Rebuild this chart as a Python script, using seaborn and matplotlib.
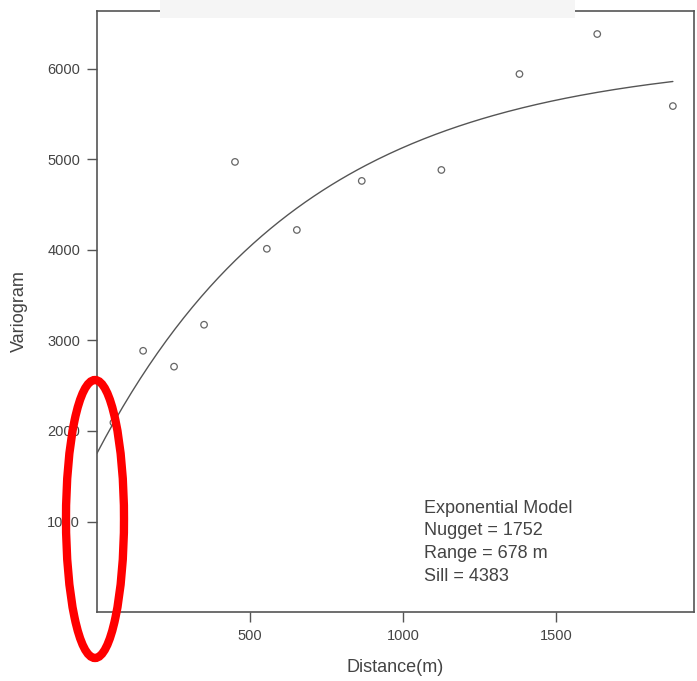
import numpy as np
import pandas as pd
import matplotlib
matplotlib.use("Agg")
import matplotlib.pyplot as plt
from matplotlib.patches import Ellipse, Rectangle
import seaborn as sns

distance = [54, 151, 252, 350, 451, 555, 653, 865, 1125, 1380, 1634, 1881]
gamma = [2093, 2886, 2711, 3174, 4973, 4013, 4221, 4763, 4884, 5944, 6386, 5590]

# fitted exponential model parameters
nugget = 1752
rng = 678
sill = 4383

sns.set_style("ticks")
plt.rcParams['font.family'] = ['Liberation Sans', 'DejaVu Sans']

fig = plt.figure(figsize=(6.97, 6.81), dpi=100)
ax = fig.add_axes([0.139, 0.1013, 0.8567, 0.8825])

df = pd.DataFrame({'dist': distance, 'gamma': gamma})
h = np.linspace(0, max(distance), 200)
model = pd.DataFrame({'dist': h, 'gamma': nugget + sill * (1 - np.exp(-h / rng))})

sns.lineplot(data=model, x='dist', y='gamma', ax=ax, color='#555555', linewidth=1.0)
sns.scatterplot(data=df, x='dist', y='gamma', ax=ax, marker='o', s=22,
                facecolors='none', edgecolor='#666666', linewidth=0.9)

ax.set_xlim(0, 1950)
ax.set_ylim(0, 6640)
ax.set_xticks([500, 1000, 1500])
ax.set_yticks([1000, 2000, 3000, 4000, 5000, 6000])
ax.tick_params(axis='both', direction='out', length=7, width=1, color='#555555',
               labelcolor='#444444', labelsize=10.5, pad=5)
for s in ax.spines.values():
    s.set_visible(True)
    s.set_color('#555555')
    s.set_linewidth(1.2)
ax.set_xlabel('Distance(m)', fontsize=13, color='#444444', labelpad=12)
ax.set_ylabel('Variogram', fontsize=13, color='#444444', labelpad=14)

ax.text(0.547, 0.187, 'Exponential Model\nNugget = %d\nRange = %d m\nSill = %d' % (nugget, rng, sill),
        transform=ax.transAxes, fontsize=13, color='#444444', va='top', ha='left',
        linespacing=1.45)

# light grey strip at top
fig.patches.append(Rectangle((160 / 697, 1 - 18 / 681), 415 / 697, 18 / 681,
                             transform=fig.transFigure, facecolor='#f5f5f5',
                             edgecolor='none', zorder=5))
# red highlight ellipse
fig.patches.append(Ellipse((95 / 697, 1 - 519 / 681), 58 / 697, 278 / 681,
                           transform=fig.transFigure, facecolor='none',
                           edgecolor='#ff0000', linewidth=6, zorder=10))

fig.savefig('out.png', dpi=100)
